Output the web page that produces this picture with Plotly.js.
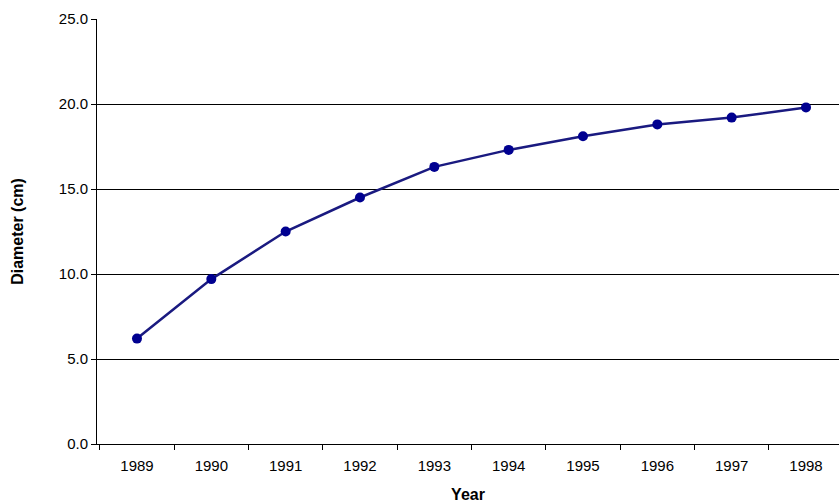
<!DOCTYPE html>
<html><head><script src="https://cdn.plot.ly/plotly-3.0.1.min.js"></script></head>
<body style="margin:0">
<div id="c" style="width:839px;height:504px"></div>
<script>
const years = ["1989","1990","1991","1992","1993","1994","1995","1996","1997","1998"];
const diameter = [6.2, 9.7, 12.5, 14.5, 16.3, 17.3, 18.1, 18.8, 19.2, 19.8];
Plotly.newPlot('c', [{
  x: years, y: diameter, type: 'scatter', mode: 'lines+markers',
  line: {color: '#1a1a80', width: 2.5},
  marker: {color: '#000090', size: 10}
}], {
  width: 839, height: 504,
  margin: {l: 97, r: 0, t: 19, b: 60},
  paper_bgcolor: '#fff', plot_bgcolor: '#fff',
  showlegend: false,
  font: {family: 'Liberation Sans, Arial, sans-serif', color: '#000', size: 15},
  xaxis: {
    type: 'category', range: [-0.538, 9.444], tickson: 'boundaries',
    ticks: 'outside', ticklen: 5, tickcolor: '#000', ticklabelstandoff: 8,
    showline: true, linecolor: '#000', linewidth: 1, showgrid: false,
    title: {text: '<b>Year</b>', font: {size: 16}, standoff: 15}
  },
  yaxis: {
    range: [0, 25], dtick: 5, tickformat: '.1f',
    ticks: 'outside', ticklen: 5, tickcolor: '#000',
    showline: true, linecolor: '#000', linewidth: 1,
    showgrid: true, gridcolor: '#000', gridwidth: 1, zeroline: false,
    title: {text: '<b>Diameter (cm)</b>', font: {size: 16}, standoff: 31}
  }
}, {displayModeBar: false});
</script></body></html>
